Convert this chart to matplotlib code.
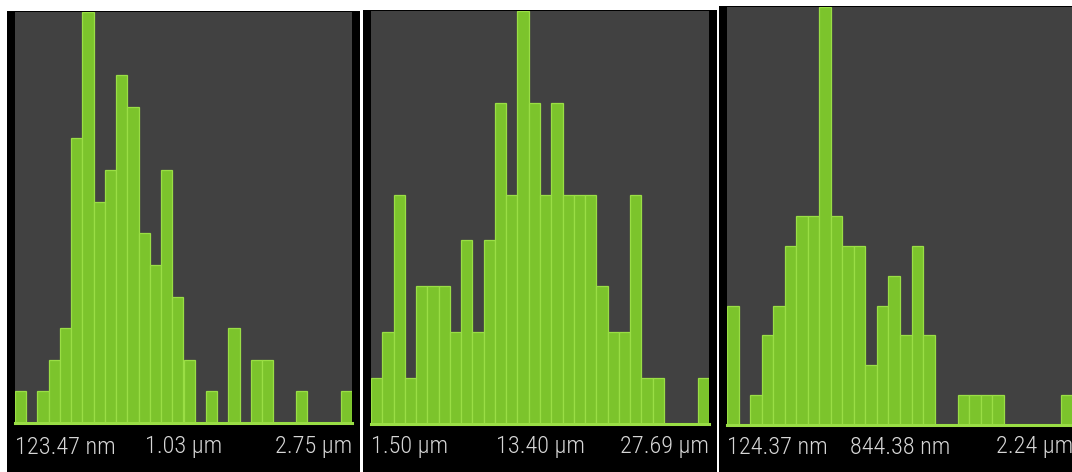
import matplotlib
matplotlib.use("Agg")
import matplotlib.pyplot as plt
import numpy as np

# counts per bin (30 bins each)
counts_a = [1, 0, 1, 2, 3, 9, 13, 7, 8, 11, 10, 6, 5, 8, 4,
            2, 0, 1, 0, 3, 0, 2, 2, 0, 0, 1, 0, 0, 0, 1]
counts_b = [1, 2, 5, 1, 3, 3, 3, 2, 4, 2, 4, 7, 5, 9, 7,
            5, 7, 5, 5, 5, 3, 2, 2, 5, 1, 1, 0, 0, 0, 1]
counts_c = [4, 0, 1, 3, 4, 6, 7, 7, 14, 7, 6, 6, 2, 4, 5,
            3, 6, 3, 0, 0, 1, 1, 1, 1, 0, 0, 0, 0, 0, 1]

labels_a = ["123.47 nm", "1.03 µm", "2.75 µm"]
labels_b = ["1.50 µm", "13.40 µm", "27.69 µm"]
labels_c = ["124.37 nm", "844.38 nm", "2.24 µm"]

W, H = 1072, 472
BAR = "#7cc42c"
EDGE = "#9ade45"
PLOT_BG = "#414141"
TEXT = "#d6d6d6"
FONT = ["Roboto Condensed", "Lato", "DejaVu Sans"]

# (frame box, plot box) in pixels: x0, y0, x1, y1 measured from top-left
panels = [
    (counts_a, labels_a, (7, 11, 360, 472), (15, 12, 352, 423)),
    (counts_b, labels_b, (363, 10, 717, 472), (371, 11, 709, 424)),
    (counts_c, labels_c, (719, 6, 1072, 472), (727, 7, 1073, 425)),
]


def px_rect(box):
    x0, y0, x1, y1 = box
    return [x0 / W, 1 - y1 / H, (x1 - x0) / W, (y1 - y0) / H]


fig = plt.figure(figsize=(W / 100, H / 100), dpi=100)
fig.patch.set_facecolor("white")

for counts, labels, frame, plot in panels:
    # black frame behind each histogram
    fr = fig.add_axes(px_rect(frame))
    fr.set_facecolor("black")
    fr.set_xticks([])
    fr.set_yticks([])
    for s in fr.spines.values():
        s.set_visible(False)

    ax = fig.add_axes(px_rect(plot))
    ax.set_facecolor(PLOT_BG)
    n = len(counts)
    ax.bar(np.arange(n), counts, width=1.0, align="edge",
           color=BAR, edgecolor=EDGE, linewidth=0.9)
    ax.axhline(0, color=EDGE, linewidth=2.2, clip_on=False)
    ax.set_xlim(0, n)
    ax.set_ylim(0, max(counts))
    ax.set_xticks([])
    ax.set_yticks([])
    for s in ax.spines.values():
        s.set_visible(False)

    # range labels under the bars
    ty = 1 - 447 / H
    x0, _, x1, _ = plot
    kw = dict(color=TEXT, fontsize=17.5, family=FONT, fontweight="light",
              va="center")
    fig.text(x0 / W, ty, labels[0], ha="left", **kw)
    fig.text((x0 + x1) / 2 / W, ty, labels[1], ha="center", **kw)
    fig.text(x1 / W, ty, labels[2], ha="right", **kw)

fig.savefig("out.png", dpi=100, facecolor="white")
